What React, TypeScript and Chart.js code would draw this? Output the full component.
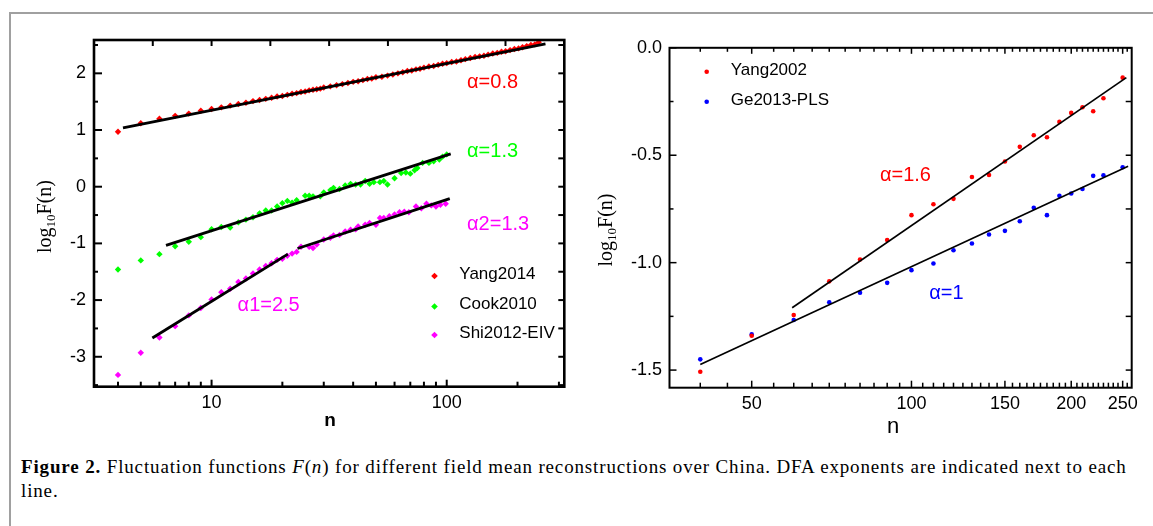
import React, { useEffect, useRef } from 'react';
import { Chart, registerables } from 'chart.js';

Chart.register(...registerables);

const SANS = '"Liberation Sans", Arial, sans-serif';
const SERIF = '"Liberation Serif", "Times New Roman", serif';

// ---------------- Left panel data ----------------
const yangN = [4, 5, 6, 7, 8, 9, 10, 11, 12, 13, 14, 15, 16, 17, 18, 19, 20, 21, 22, 23, 24, 25, 26, 27, 28, 29, 30,
  32, 34, 36, 38, 40, 42, 44, 46, 48, 50, 53, 56, 59, 62, 65, 68, 71, 74, 77, 80, 84, 88, 92, 96, 100,
  105, 110, 115, 120, 126, 132, 138, 144, 150, 157, 164, 171, 178, 186, 194, 202, 210, 219, 228, 237, 246];
const yangF = [0.97, 1.12, 1.2, 1.25, 1.29, 1.34, 1.37, 1.4, 1.43, 1.46, 1.48, 1.51, 1.53, 1.55, 1.57, 1.59, 1.6,
  1.62, 1.64, 1.65, 1.67, 1.68, 1.7, 1.71, 1.72, 1.73, 1.75, 1.77, 1.79, 1.81, 1.83, 1.85, 1.86, 1.88, 1.9, 1.91, 1.93,
  1.94, 1.96, 1.98, 2.0, 2.02, 2.04, 2.05, 2.07, 2.08, 2.1, 2.12, 2.13, 2.15, 2.17, 2.18, 2.2, 2.21, 2.23, 2.25,
  2.27, 2.29, 2.3, 2.31, 2.33, 2.35, 2.36, 2.38, 2.39, 2.41, 2.43, 2.44, 2.46, 2.48, 2.5, 2.51, 2.55];

const cookN = [4, 5, 6, 7, 8, 9, 10, 11, 12, 13, 14, 15, 16, 17, 18, 19, 20, 21, 22, 23, 25, 26, 27, 29, 30,
  32, 33, 35, 37, 39, 41, 43, 45, 47, 49, 52, 54, 56, 60, 64, 67, 70, 73, 75, 79, 84, 88, 93, 96, 100];
const cookF = [-1.46, -1.3, -1.19, -1.05, -0.97, -0.89, -0.75, -0.71, -0.72, -0.63, -0.58, -0.54, -0.47, -0.42,
  -0.42, -0.35, -0.29, -0.25, -0.28, -0.24, -0.16, -0.16, -0.17, -0.17, -0.1, -0.06, -0.02, -0.04, 0.02, 0.05,
  0.04, 0.04, 0.1, 0.05, 0.08, 0.08, 0.1, 0.04, 0.15, 0.24, 0.25, 0.23, 0.29, 0.33, 0.42, 0.42, 0.45, 0.48, 0.53, 0.57];

const shiN = [4, 5, 6, 7, 8, 9, 10, 11, 12, 13, 14, 15, 16, 17, 18, 19, 20, 21, 22, 23, 24, 26, 27, 28, 30, 32,
  33, 35, 37, 39, 41, 42, 45, 47, 50, 52, 54, 57, 60, 63, 66, 69, 74, 78, 82, 86, 90, 94, 99];
const shiF = [-3.32, -2.93, -2.66, -2.46, -2.27, -2.14, -1.99, -1.86, -1.8, -1.68, -1.62, -1.53, -1.46, -1.4,
  -1.35, -1.29, -1.27, -1.22, -1.18, -1.15, -1.06, -1.06, -1.08, -1.02, -0.93, -0.9, -0.86, -0.85, -0.79, -0.76,
  -0.75, -0.7, -0.67, -0.64, -0.67, -0.55, -0.55, -0.52, -0.49, -0.45, -0.44, -0.45, -0.35, -0.38, -0.3, -0.33,
  -0.35, -0.32, -0.3];

// fitted DFA lines (end points)
const yangFitN = [4.2, 263];
const yangFitF = [1.04, 2.52];
const cookFitN = [6.4, 104];
const cookFitF = [-1.035, 0.58];
const shiFit1N = [5.6, 21.1];
const shiFit1F = [-2.67, -1.19];
const shiFit2N = [23.2, 103];
const shiFit2F = [-1.09, -0.21];

const leftXTicks = [4, 5, 6, 7, 8, 9, 10, 20, 30, 40, 50, 60, 70, 80, 90, 100, 200, 300];
const leftXLabels = [10, 100];
const leftXTopTicks = [5.623, 10, 17.78, 31.62, 56.23, 100, 177.8];
const leftYTicks = [-3.5, -3, -2.5, -2, -1.5, -1, -0.5, 0, 0.5, 1, 1.5, 2, 2.5];
const leftYLabels = [-3, -2, -1, 0, 1, 2];

// ---------------- Right panel data ----------------
const rightN = [40, 50, 60, 70, 80, 90, 100, 110, 120, 130, 140, 150, 160, 170, 180, 190, 200, 210, 220, 230, 250];
const yang2002F = [-1.508, -1.34, -1.244, -1.087, -0.985, -0.895, -0.779, -0.728, -0.703, -0.601, -0.592, -0.529,
  -0.461, -0.407, -0.416, -0.345, -0.303, -0.277, -0.295, -0.235, -0.139];
const ge2013F = [-1.45, -1.334, -1.267, -1.184, -1.14, -1.094, -1.035, -1.004, -0.942, -0.911, -0.869, -0.852,
  -0.807, -0.745, -0.779, -0.689, -0.678, -0.657, -0.596, -0.593, -0.556];

const yang2002FitN = [59.6, 254];
const yang2002FitF = [-1.21, -0.139];
const ge2013FitN = [40, 256];
const ge2013FitF = [-1.474, -0.551];

const rightXTicks = [40, 45, 50, 55, 60, 65, 70, 75, 80, 85, 90, 95, 100, 105, 110, 115, 120, 125, 130, 135, 140,
  145, 150, 155, 160, 165, 170, 175, 180, 185, 190, 195, 200, 205, 210, 215, 220, 225, 230, 235, 240, 245, 250, 255];
const rightXLabels = [50, 100, 150, 200, 250];
const rightYTicks = [-1.5, -1.25, -1, -0.75, -0.5, -0.25, 0];
const rightYLabels = [-1.5, -1, -0.5, 0];

type Note = { text: string; x: number; y: number; color: string };

const leftNotes: Note[] = [
  { text: 'α=0.8', x: 122, y: 1.84, color: '#ff0000' },
  { text: 'α=1.3', x: 122, y: 0.63, color: '#00ff00' },
  { text: 'α2=1.3', x: 122, y: -0.66, color: '#ff00ff' },
  { text: 'α1=2.5', x: 12.9, y: -2.1, color: '#ff00ff' },
];
const rightNotes: Note[] = [
  { text: 'α=1.6', x: 87.2, y: -0.593, color: '#ff0000' },
  { text: 'α=1', x: 108, y: -1.143, color: '#0000ff' },
];

const pts = (ns: number[], fs: number[]) => ns.map((n, i) => ({ x: n, y: fs[i] }));

type Spec = {
  frameWidth: number;
  tickWidth: number;
  bottomMajor: number;
  bottomMinor: number;
  topTicks: number[] | null;
  topMajor: number;
  topMinor: number;
  xLabels: number[];
  yLabels: number[];
  leftMajor: number;
  leftMinor: number;
  rightLen: number;
  legend: { markerX: number; textX: number; ys: number[]; textDy: number; shape: string; r: number; font: string };
  notes: Note[];
  noteFont: string;
  yTitle: { x: number; y: number };
  xTitle: { text: string; x: number; y: number; font: string };
};

function panelPlugin(spec: Spec) {
  return {
    id: 'panelDecor',
    afterDraw(chart: any) {
      const ctx: CanvasRenderingContext2D = chart.ctx;
      const { left, right, top, bottom } = chart.chartArea;
      const xs = chart.scales.x;
      const ys = chart.scales.y;
      ctx.save();
      ctx.strokeStyle = '#000';
      ctx.lineCap = 'butt';
      ctx.lineWidth = spec.tickWidth;
      const seg = (x1: number, y1: number, x2: number, y2: number) => {
        ctx.beginPath();
        ctx.moveTo(x1, y1);
        ctx.lineTo(x2, y2);
        ctx.stroke();
      };
      xs.ticks.forEach((t: any) => {
        const p = xs.getPixelForValue(t.value);
        const major = spec.xLabels.includes(t.value);
        seg(p, bottom, p, bottom - (major ? spec.bottomMajor : spec.bottomMinor));
      });
      const topVals: number[] = spec.topTicks ?? xs.ticks.map((t: any) => t.value);
      topVals.forEach((v) => {
        const p = xs.getPixelForValue(v);
        const major = spec.topTicks ? true : spec.xLabels.includes(v);
        seg(p, top, p, top + (major ? spec.topMajor : spec.topMinor));
      });
      ys.ticks.forEach((t: any) => {
        const p = ys.getPixelForValue(t.value);
        const major = spec.yLabels.includes(t.value);
        seg(left, p, left + (major ? spec.leftMajor : spec.leftMinor), p);
        seg(right, p, right - spec.rightLen, p);
      });
      ctx.lineWidth = spec.frameWidth;
      ctx.strokeRect(left, top, right - left, bottom - top);

      // legend
      const items = chart.data.datasets.filter((d: any) => d.inLegend);
      const lg = spec.legend;
      items.forEach((d: any, i: number) => {
        const y = lg.ys[i];
        ctx.fillStyle = d.backgroundColor;
        ctx.beginPath();
        if (lg.shape === 'diamond') {
          ctx.moveTo(lg.markerX, y - lg.r);
          ctx.lineTo(lg.markerX + lg.r, y);
          ctx.lineTo(lg.markerX, y + lg.r);
          ctx.lineTo(lg.markerX - lg.r, y);
          ctx.closePath();
        } else {
          ctx.arc(lg.markerX, y, lg.r, 0, Math.PI * 2);
        }
        ctx.fill();
        ctx.fillStyle = '#000';
        ctx.font = lg.font;
        ctx.textAlign = 'left';
        ctx.textBaseline = 'middle';
        ctx.fillText(d.label, lg.textX, y + lg.textDy);
      });

      // exponent notes
      ctx.font = spec.noteFont;
      ctx.textAlign = 'left';
      ctx.textBaseline = 'middle';
      spec.notes.forEach((n) => {
        ctx.fillStyle = n.color;
        ctx.fillText(n.text, xs.getPixelForValue(n.x), ys.getPixelForValue(n.y));
      });

      // x title
      ctx.fillStyle = '#000';
      ctx.font = spec.xTitle.font;
      ctx.textAlign = 'center';
      ctx.textBaseline = 'middle';
      ctx.fillText(spec.xTitle.text, spec.xTitle.x, spec.xTitle.y);

      // y title with subscript
      ctx.save();
      ctx.translate(spec.yTitle.x, spec.yTitle.y);
      ctx.rotate(-Math.PI / 2);
      ctx.textAlign = 'left';
      ctx.textBaseline = 'alphabetic';
      const big = `20px ${SERIF}`;
      const small = `13px ${SERIF}`;
      ctx.font = big;
      const w1 = ctx.measureText('log').width;
      const w3 = ctx.measureText('F(n)').width;
      ctx.font = small;
      const w2 = ctx.measureText('10').width;
      let x0 = -(w1 + w2 + w3) / 2;
      ctx.font = big;
      ctx.fillText('log', x0, 0);
      x0 += w1;
      ctx.font = small;
      ctx.fillText('10', x0, 4);
      x0 += w2;
      ctx.font = big;
      ctx.fillText('F(n)', x0, 0);
      ctx.restore();

      ctx.restore();
    },
  };
}

const tickFont = { family: SANS, size: 18 };

function leftConfig(): any {
  const fit = (ns: number[], fs: number[]) => ({
    label: 'fit', data: pts(ns, fs), showLine: true, pointRadius: 0, borderColor: '#000',
    borderWidth: 2.8, order: 0, fill: false,
  });
  const dots = (label: string, ns: number[], fs: number[], color: string) => ({
    label, data: pts(ns, fs), pointStyle: 'rectRot', pointRadius: 3.2, backgroundColor: color,
    borderWidth: 0, showLine: false, order: 1, inLegend: true,
  });
  return {
    type: 'scatter',
    data: {
      datasets: [
        dots('Yang2014', yangN, yangF, '#ff0000'),
        dots('Cook2010', cookN, cookF, '#00ff00'),
        dots('Shi2012-EIV', shiN, shiF, '#ff00ff'),
        fit(yangFitN, yangFitF),
        fit(cookFitN, cookFitF),
        fit(shiFit1N, shiFit1F),
        fit(shiFit2N, shiFit2F),
      ],
    },
    options: {
      responsive: false,
      animation: false,
      layout: { padding: { top: 40, right: 15.7, left: 0, bottom: 0 } },
      plugins: { legend: { display: false }, tooltip: { enabled: false } },
      scales: {
        x: {
          type: 'logarithmic', min: 3.1623, max: 316.23,
          grid: { display: false, drawTicks: false }, border: { display: false },
          afterBuildTicks: (s: any) => { s.ticks = leftXTicks.map((v) => ({ value: v })); },
          afterFit: (s: any) => { s.height = 45.3; },
          ticks: {
            autoSkip: false, maxRotation: 0, padding: 6, color: '#000', font: tickFont,
            callback: (v: number) => (leftXLabels.includes(v) ? String(v) : ''),
          },
        },
        y: {
          type: 'linear', min: -3.528, max: 2.588,
          grid: { display: false, drawTicks: false }, border: { display: false },
          afterBuildTicks: (s: any) => { s.ticks = leftYTicks.map((v) => ({ value: v })); },
          afterFit: (s: any) => { s.width = 94; },
          ticks: {
            autoSkip: false, padding: 8, color: '#000', font: tickFont,
            callback: (v: number) => (leftYLabels.includes(v) ? String(v) : ''),
          },
        },
      },
    },
    plugins: [panelPlugin({
      frameWidth: 2.6, tickWidth: 2, bottomMajor: 7, bottomMinor: 5, topTicks: leftXTopTicks, topMajor: 6,
      topMinor: 6, xLabels: leftXLabels, yLabels: leftYLabels, leftMajor: 8, leftMinor: 4, rightLen: 6,
      legend: { markerX: 434.5, textX: 459.3, ys: [276, 306.5, 335], textDy: -2, shape: 'diamond', r: 3.3, font: `17px ${SANS}` },
      notes: leftNotes, noteFont: `20px ${SANS}`,
      yTitle: { x: 51, y: 216.5 },
      xTitle: { text: 'n', x: 330, y: 421, font: `bold 19px ${SANS}` },
    })],
  };
}

function rightConfig(): any {
  const fit = (ns: number[], fs: number[]) => ({
    label: 'fit', data: pts(ns, fs), showLine: true, pointRadius: 0, borderColor: '#000',
    borderWidth: 1.7, order: 0, fill: false,
  });
  const dots = (label: string, fs: number[], color: string) => ({
    label, data: pts(rightN, fs), pointStyle: 'circle', pointRadius: 2.3, backgroundColor: color,
    borderWidth: 0, showLine: false, order: 1, inLegend: true,
  });
  return {
    type: 'scatter',
    data: {
      datasets: [
        dots('Yang2002', yang2002F, '#ff0000'),
        dots('Ge2013-PLS', ge2013F, '#0000ff'),
        fit(yang2002FitN, yang2002FitF),
        fit(ge2013FitN, ge2013FitF),
      ],
    },
    options: {
      responsive: false,
      animation: false,
      layout: { padding: { top: 47.8, right: 21.3, left: 0, bottom: 0 } },
      plugins: { legend: { display: false }, tooltip: { enabled: false } },
      scales: {
        x: {
          type: 'logarithmic', min: 35, max: 260,
          grid: { display: false, drawTicks: false }, border: { display: false },
          afterBuildTicks: (s: any) => { s.ticks = rightXTicks.map((v) => ({ value: v })); },
          afterFit: (s: any) => { s.height = 52.3; },
          ticks: {
            autoSkip: false, maxRotation: 0, padding: 6, color: '#000', font: tickFont,
            callback: (v: number) => (rightXLabels.includes(v) ? String(v) : ''),
          },
        },
        y: {
          type: 'linear', min: -1.582, max: 0,
          grid: { display: false, drawTicks: false }, border: { display: false },
          afterBuildTicks: (s: any) => { s.ticks = rightYTicks.map((v) => ({ value: v })); },
          afterFit: (s: any) => { s.width = 89.5; },
          ticks: {
            autoSkip: false, padding: 7.5, color: '#000', font: tickFont,
            callback: (v: number) => (rightYLabels.includes(v) ? v.toFixed(1) : ''),
          },
        },
      },
    },
    plugins: [panelPlugin({
      frameWidth: 2, tickWidth: 1.5, bottomMajor: 7, bottomMinor: 5, topTicks: null, topMajor: 6,
      topMinor: 4, xLabels: rightXLabels, yLabels: rightYLabels, leftMajor: 7, leftMinor: 4, rightLen: 6,
      legend: { markerX: 126.7, textX: 150.7, ys: [71.7, 101.7], textDy: -1, shape: 'circle', r: 2.3, font: `17px ${SANS}` },
      notes: rightNotes, noteFont: `20px ${SANS}`,
      yTitle: { x: 31.5, y: 230 },
      xTitle: { text: 'n', x: 313, y: 427, font: `22px ${SANS}` },
    })],
  };
}

function ChartCanvas(props: { make: () => any; left: number; top: number; width: number; height: number }) {
  const ref = useRef<HTMLCanvasElement>(null);
  useEffect(() => {
    const chart = new Chart(ref.current as HTMLCanvasElement, props.make());
    return () => chart.destroy();
  }, []);
  return (
    <canvas
      ref={ref}
      width={props.width}
      height={props.height}
      style={{ position: 'absolute', left: props.left, top: props.top, width: props.width, height: props.height }}
    />
  );
}

export default function App() {
  return (
    <div style={{ position: 'absolute', left: 0, top: 0, width: 1153, height: 526, background: '#fff', overflow: 'hidden' }}>
      <div
        style={{
          position: 'absolute', left: 9, top: 12, width: 1300, height: 700,
          borderTop: '2px solid #a0a0a0', borderLeft: '2px solid #a0a0a0',
        }}
      />
      <ChartCanvas make={leftConfig} left={0} top={0} width={580} height={432} />
      <ChartCanvas make={rightConfig} left={580} top={0} width={573} height={440} />
      <div
        style={{
          position: 'absolute', left: 21, top: 455, fontFamily: SERIF, fontSize: 19, lineHeight: '24px',
          color: '#000', whiteSpace: 'nowrap', letterSpacing: '0.85px',
        }}
      >
        <b>Figure 2.</b> Fluctuation functions <i>F</i>(<i>n</i>) for different field mean reconstructions over China. DFA
        exponents are indicated next to each
        <br />
        line.
      </div>
    </div>
  );
}
